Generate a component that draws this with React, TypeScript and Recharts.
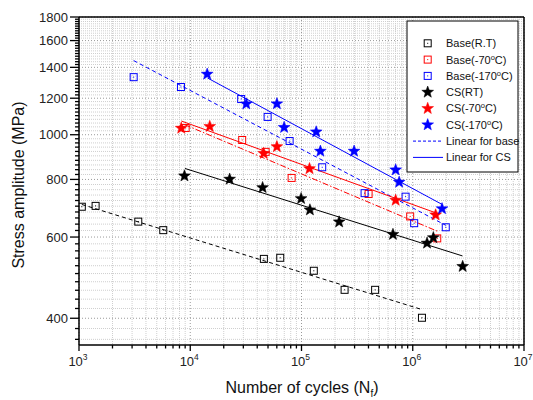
import React from "react";
import { ScatterChart, Scatter, XAxis, YAxis, CartesianGrid, ReferenceLine } from "recharts";

// cycles to failure (N_f) and stress amplitude (MPa)
const baseRTCycles = [1060, 1410, 3410, 5720, 45900, 64400, 129000, 244000, 459000, 1210000];
const baseRTStress = [698, 701, 648, 621, 538, 541, 507, 461, 461, 401];

const base70Cycles = [9090, 29300, 47600, 81500, 401000, 948000, 1660000];
const base70Stress = [1034, 974, 918, 806, 744, 665, 596];

const base170Cycles = [3100, 8250, 28700, 49600, 78200, 153500, 369000, 862000, 1030000, 1980000];
const base170Stress = [1333, 1269, 1195, 1093, 969, 850, 747, 734, 643, 630];

const csRTCycles = [8870, 22600, 44700, 99200, 119000, 218000, 664000, 1344000, 1531000, 2810000];
const csRTStress = [814, 801, 768, 727, 687, 647, 608, 582, 598, 518];

const cs70Cycles = [8300, 14970, 45750, 60100, 118000, 702000, 1606000];
const cs70Stress = [1033, 1042, 911, 942, 844, 721, 670];

const cs170Cycles = [14200, 31900, 60100, 69800, 135600, 147800, 297000, 702000, 755000, 1834000];
const cs170Stress = [1353, 1166, 1167, 1037, 1014, 921, 921, 839, 789, 691];

// linear fits: start / end points
const fitBaseRTCycles = [1060, 1200000];
const fitBaseRTStress = [706, 418];
const fitBase70Cycles = [8960, 1657000];
const fitBase70Stress = [1051, 618];
const fitBase170Cycles = [3100, 1984000];
const fitBase170Stress = [1448, 636];
const fitCsRTCycles = [8960, 2800000];
const fitCsRTStress = [845, 546];
const fitCs70Cycles = [8300, 1613000];
const fitCs70Stress = [1071, 677];
const fitCs170Cycles = [14330, 1838000];
const fitCs170Stress = [1327, 706];

const X_MAJOR = [1e3, 1e4, 1e5, 1e6, 1e7];
const X_MINOR = [1e3, 1e4, 1e5, 1e6].flatMap((d) => [2, 3, 4, 5, 6, 7, 8, 9].map((m) => m * d));
const Y_MAJOR = [400, 600, 800, 1000, 1200, 1400, 1600, 1800];
const Y_ALL: number[] = [];
for (let v = 360; v <= 1800; v += 20) Y_ALL.push(v);
const Y_MINOR = Y_ALL.filter((v) => !Y_MAJOR.includes(v));

const FONT = "'Liberation Sans', Arial, sans-serif";
const BLACK = "#000000";
const RED = "#ff0000";
const BLUE = "#0000ff";

const pts = (n: number[], s: number[]) => n.map((v, i) => ({ n: v, s: s[i] }));

const starPoints = (cx: number, cy: number, r: number) => {
  const out: string[] = [];
  for (let i = 0; i < 10; i++) {
    const rr = i % 2 === 0 ? r : r * 0.42;
    const a = -Math.PI / 2 + (i * Math.PI) / 5;
    out.push(`${cx + rr * Math.cos(a)},${cy + rr * Math.sin(a)}`);
  }
  return out.join(" ");
};

const Square = (color: string) => (p: any) => (
  <g>
    <rect x={p.cx - 3.5} y={p.cy - 3.5} width={7} height={7} fill="none" stroke={color} strokeWidth={1} />
    <rect x={p.cx - 0.5} y={p.cy - 0.5} width={1} height={1} fill={color} />
  </g>
);

const Star = (color: string) => (p: any) => (
  <polygon points={starPoints(p.cx, p.cy, 6.2)} fill={color} stroke={color} strokeWidth={0.5} />
);

const NoDot = () => <g />;

const XTick = (props: any) => {
  const { x, y, payload } = props;
  const major = X_MAJOR.includes(payload.value);
  const exp = Math.round(Math.log10(payload.value));
  return (
    <g>
      <line x1={x} x2={x} y1={y} y2={y + (major ? 6 : 3.5)} stroke={BLACK} strokeWidth={1.3} />
      {major && (
        <text x={x - 1} y={y + 21} textAnchor="middle" fontSize={13} fontFamily={FONT} fill="#222">
          10
          <tspan dy={-6} fontSize={8.5}>
            {exp}
          </tspan>
        </text>
      )}
    </g>
  );
};

const YTick = (props: any) => {
  const { x, y, payload } = props;
  const major = Y_MAJOR.includes(payload.value);
  return (
    <g>
      <line x1={x} x2={x - (major ? 9 : 4)} y1={y} y2={y} stroke={BLACK} strokeWidth={1.3} />
      {major && (
        <text x={x - 11} y={y} dy="0.36em" textAnchor="end" fontSize={13} fontFamily={FONT} fill="#222">
          {payload.value}
        </text>
      )}
    </g>
  );
};

const LEGEND = [
  { pre: "Base(R.T)", sup: "", post: "", kind: "square", color: BLACK },
  { pre: "Base(-70", sup: "o", post: "C)", kind: "square", color: RED },
  { pre: "Base(-170", sup: "o", post: "C)", kind: "square", color: BLUE },
  { pre: "CS(RT)", sup: "", post: "", kind: "star", color: BLACK },
  { pre: "CS(-70", sup: "o", post: "C)", kind: "star", color: RED },
  { pre: "CS(-170", sup: "o", post: "C)", kind: "star", color: BLUE },
  { pre: "Linear for base", sup: "", post: "", kind: "dash", color: BLUE },
  { pre: "Linear for CS", sup: "", post: "", kind: "solid", color: BLUE },
];

function Overlay() {
  return (
    <svg width={533} height={400} style={{ position: "absolute", left: 0, top: 0, pointerEvents: "none" }}>
      <text
        transform="translate(23.5,185) rotate(-90)"
        textAnchor="middle"
        fontSize={16}
        fontFamily={FONT}
        fill="#111"
      >
        Stress amplitude (MPa)
      </text>
      <text x={302} y={393} textAnchor="middle" fontSize={16} fontFamily={FONT} fill="#111">
        Number of cycles (N
        <tspan dy={4} fontSize={10}>
          f
        </tspan>
        <tspan dy={-4}>)</tspan>
      </text>

      <rect x={407} y={21} width={111} height={151} fill="#fff" stroke={BLACK} strokeWidth={1} />
      {LEGEND.map((it, i) => {
        const cy = 43.3 + i * 16.3;
        let sym;
        if (it.kind === "square") sym = Square(it.color)({ cx: 427.7, cy });
        else if (it.kind === "star") sym = Star(it.color)({ cx: 427.7, cy });
        else
          sym = (
            <line
              x1={413}
              x2={443}
              y1={cy}
              y2={cy}
              stroke={it.color}
              strokeWidth={1}
              strokeDasharray={it.kind === "dash" ? "3 2" : undefined}
            />
          );
        return (
          <g key={i}>
            {sym}
            <text x={446} y={cy} dy="0.36em" fontSize={11} fontFamily={FONT} fill="#111">
              {it.pre}
              {it.sup && (
                <tspan dy={-4} fontSize={7.5}>
                  {it.sup}
                </tspan>
              )}
              {it.post && <tspan dy={it.sup ? 4 : 0}>{it.post}</tspan>}
            </text>
          </g>
        );
      })}
    </svg>
  );
}

export default function App() {
  return (
    <div style={{ position: "absolute", left: 0, top: 0, width: 533, height: 400, background: "#fff" }}>
      <ScatterChart width={533} height={400} margin={{ top: 17, right: 9, left: 0, bottom: 0 }}>
        <CartesianGrid
          horizontalValues={Y_MINOR}
          verticalValues={X_MINOR}
          stroke="#cfcfcf"
          strokeDasharray="1 1"
        />
        <CartesianGrid
          horizontalValues={Y_MAJOR}
          verticalValues={X_MAJOR}
          stroke="#9a9a9a"
          strokeDasharray="1 2"
        />
        <XAxis
          dataKey="n"
          type="number"
          scale="log"
          domain={[1000, 1e7]}
          allowDataOverflow
          ticks={[...X_MAJOR, ...X_MINOR].sort((a, b) => a - b)}
          interval={0}
          tick={<XTick />}
          tickLine={false}
          tickSize={0}
          tickMargin={0}
          height={55}
          axisLine={{ stroke: BLACK, strokeWidth: 1.5 }}
        />
        <YAxis
          dataKey="s"
          type="number"
          scale="log"
          domain={[350, 1800]}
          allowDataOverflow
          ticks={Y_ALL}
          interval={0}
          tick={<YTick />}
          tickLine={false}
          tickSize={0}
          tickMargin={0}
          width={79}
          axisLine={{ stroke: BLACK, strokeWidth: 1.5 }}
        />
        <ReferenceLine y={1800} stroke={BLACK} strokeWidth={1.5} />
        <ReferenceLine x={1e7} stroke={BLACK} strokeWidth={1.5} />

        <Scatter data={pts(fitBaseRTCycles, fitBaseRTStress)} line={{ stroke: BLACK, strokeWidth: 1, strokeDasharray: "4 3" }} shape={NoDot} isAnimationActive={false} />
        <Scatter data={pts(fitBase70Cycles, fitBase70Stress)} line={{ stroke: RED, strokeWidth: 1, strokeDasharray: "6 2 1.5 2" }} shape={NoDot} isAnimationActive={false} />
        <Scatter data={pts(fitBase170Cycles, fitBase170Stress)} line={{ stroke: BLUE, strokeWidth: 1, strokeDasharray: "4 3" }} shape={NoDot} isAnimationActive={false} />
        <Scatter data={pts(fitCsRTCycles, fitCsRTStress)} line={{ stroke: BLACK, strokeWidth: 1 }} shape={NoDot} isAnimationActive={false} />
        <Scatter data={pts(fitCs70Cycles, fitCs70Stress)} line={{ stroke: RED, strokeWidth: 1 }} shape={NoDot} isAnimationActive={false} />
        <Scatter data={pts(fitCs170Cycles, fitCs170Stress)} line={{ stroke: BLUE, strokeWidth: 1 }} shape={NoDot} isAnimationActive={false} />

        <Scatter data={pts(baseRTCycles, baseRTStress)} shape={Square(BLACK)} isAnimationActive={false} />
        <Scatter data={pts(base70Cycles, base70Stress)} shape={Square(RED)} isAnimationActive={false} />
        <Scatter data={pts(base170Cycles, base170Stress)} shape={Square(BLUE)} isAnimationActive={false} />
        <Scatter data={pts(csRTCycles, csRTStress)} shape={Star(BLACK)} isAnimationActive={false} />
        <Scatter data={pts(cs70Cycles, cs70Stress)} shape={Star(RED)} isAnimationActive={false} />
        <Scatter data={pts(cs170Cycles, cs170Stress)} shape={Star(BLUE)} isAnimationActive={false} />
      </ScatterChart>
      <Overlay />
    </div>
  );
}
